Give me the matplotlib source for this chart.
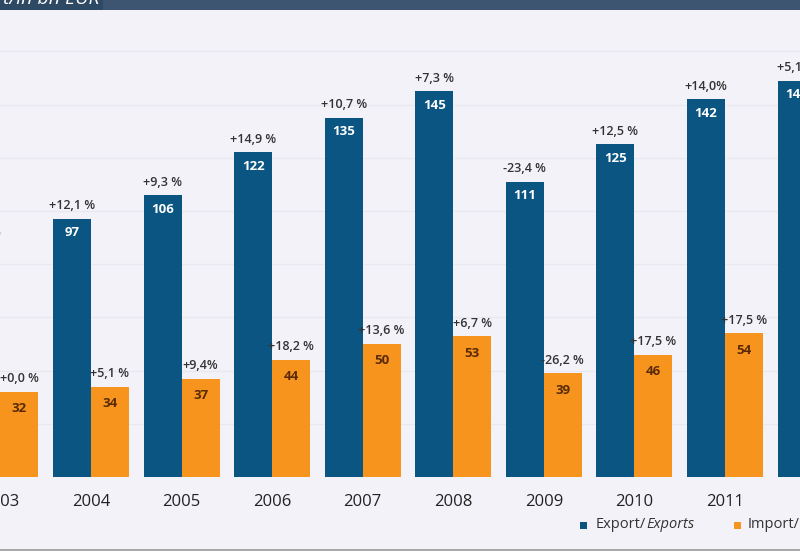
import matplotlib
matplotlib.use("Agg")
import matplotlib.pyplot as plt
from matplotlib.patches import Rectangle
import numpy as np

years = ["2003", "2004", "2005", "2006", "2007", "2008", "2009", "2010", "2011", "2012"]
exports = [87, 97, 106, 122, 135, 145, 111, 125, 142, 149]
export_growth = ["+4,8 %", "+12,1 %", "+9,3 %", "+14,9 %", "+10,7 %", "+7,3 %", "-23,4 %", "+12,5 %", "+14,0%", "+5,1 %"]
imports = [32, 34, 37, 44, 50, 53, 39, 46, 54]
import_growth = ["+0,0 %", "+5,1 %", "+9,4%", "+18,2 %", "+13,6 %", "+6,7 %", "-26,2 %", "+17,5 %", "+17,5 %"]

FONT = "Open Sans"
BLUE = "#0a5582"
ORANGE = "#f7941d"
BG = "#f3f2f9"

W, H = 800, 560
fig = plt.figure(figsize=(W / 100, H / 100), dpi=100)
fig.patch.set_facecolor("white")

# background panel
fig.add_artist(Rectangle((0, 10 / H), 1, (550 - 10) / H, transform=fig.transFigure,
                         facecolor=BG, edgecolor="none", zorder=0))
# top band
fig.add_artist(Rectangle((0, 1 - 10 / H), 1, 10 / H, transform=fig.transFigure,
                         facecolor="#3d5570", edgecolor="none", zorder=1))
fig.add_artist(Rectangle((0, 1 - 10 / H), 103 / W, 10 / H, transform=fig.transFigure,
                         facecolor="#2e4964", edgecolor="none", zorder=1))
fig.text(100 / W, 1 - 4 / H, "Export/Import/in bn EUR", ha="right", va="baseline",
         color="white", fontsize=14, style="italic", family=FONT, zorder=2)
# bottom rule
fig.add_artist(plt.Line2D([0, 1], [(560 - 550) / H] * 2, transform=fig.transFigure,
                          color="#9a9a9a", lw=1.2, zorder=2))

# axes: bottom at y=477px, top at y=12px
ax_bottom = (H - 477) / H
ax_top = (H - 12) / H
ax = fig.add_axes([0, ax_bottom, 1, ax_top - ax_bottom])
ax.set_facecolor("none")
k = 2.66
period = 90.57

x_exp = np.arange(len(exports))
x_imp = np.arange(len(imports))
bw = 38 / period
for yv in range(20, 180, 20):
    ax.axhline(yv, color="#e9e8f1", lw=0.9, zorder=0)

ax.bar(x_exp - bw / 2, exports, width=bw, color=BLUE, zorder=2)
ax.bar(x_imp + bw / 2, imports, width=bw, color=ORANGE, zorder=2)

off_in = 14 / k
off_out = 13 / k
for i, (v, g) in enumerate(zip(exports, export_growth)):
    ax.text(i - bw / 2, v - off_in, str(v), ha="center", va="center", color="white",
            fontsize=9.5, fontweight="bold", family=FONT, zorder=3)
    ax.text(i - bw / 2, v + off_out, g, ha="center", va="center", color="#333333",
            fontsize=9, fontweight="semibold", family=FONT, zorder=3)
for i, (v, g) in enumerate(zip(imports, import_growth)):
    ax.text(i + bw / 2, v - off_in - 3 / k, str(v), ha="center", va="center", color="#5a2a05",
            fontsize=9.5, fontweight="bold", family=FONT, zorder=3)
    ax.text(i + bw / 2, v + off_out, g, ha="center", va="center", color="#333333",
            fontsize=9, fontweight="semibold", family=FONT, zorder=3)

ax.set_xticks(x_exp)
ax.set_xticklabels(years, fontsize=12, color="#222222", family=FONT)
ax.tick_params(axis="x", length=0, pad=12)
ax.set_yticks([])
for s in ax.spines.values():
    s.set_visible(False)
ax.set_xlim(-0.4 / period, (W - 0.4) / period)
ax.set_ylim(0, 465 / k)

# legend
ly = (H - 525) / H
sq = 7
fig.add_artist(Rectangle((580 / W, ly - sq / 2 / H), sq / W, sq / H, transform=fig.transFigure,
                         facecolor=BLUE, edgecolor="none", zorder=3))
fig.add_artist(Rectangle((734 / W, ly - sq / 2 / H), sq / W, sq / H, transform=fig.transFigure,
                         facecolor=ORANGE, edgecolor="none", zorder=3))
r = fig.canvas.get_renderer()
for x0, a, b in [(596, "Export/", "Exports"), (748, "Import/", "Imports")]:
    t1 = fig.text(x0 / W, ly, a, ha="left", va="center", fontsize=10.5, color="#333333", family=FONT)
    bb = t1.get_window_extent(renderer=r)
    fig.text(bb.x1 / W, ly, b, ha="left", va="center", fontsize=10.5, color="#333333",
             family=FONT, style="italic")

fig.savefig("out.png", dpi=100)
